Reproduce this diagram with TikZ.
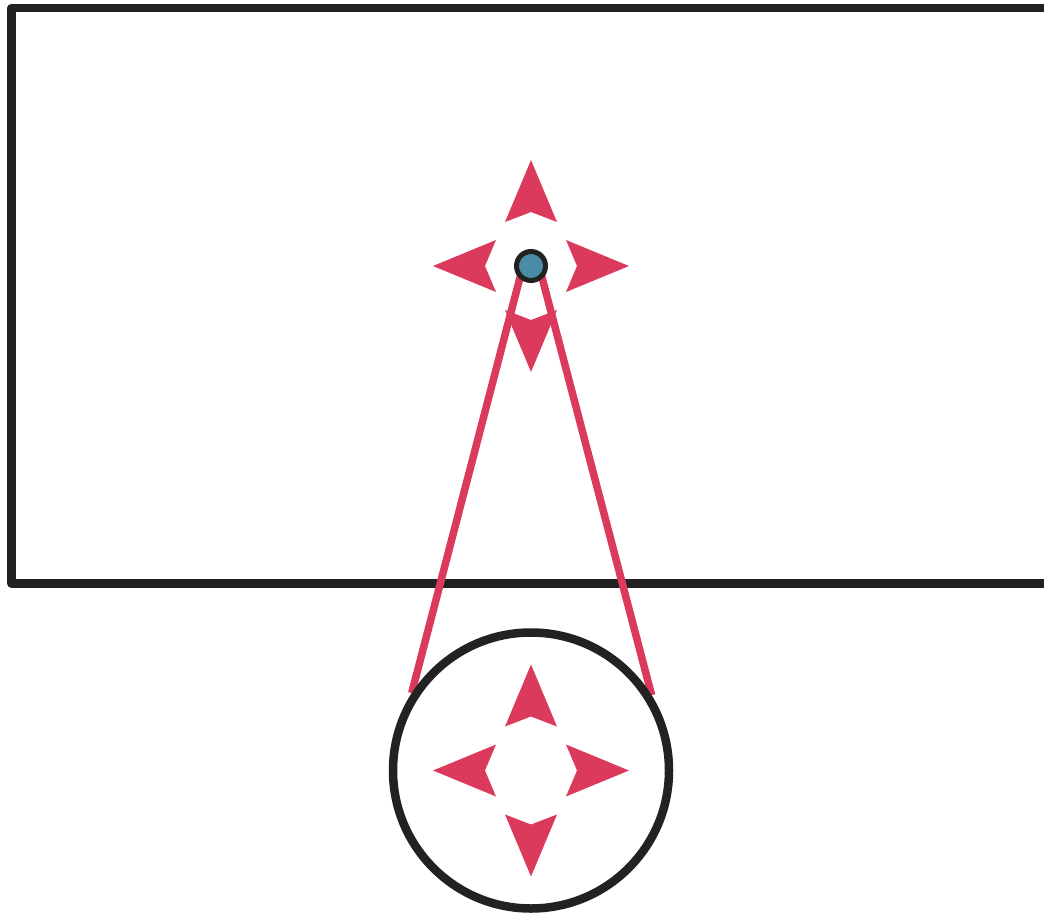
\documentclass[tikz,border=0pt]{standalone}
\definecolor{arrowred}{HTML}{DC3A5C}
\definecolor{inkblack}{HTML}{222222}
\definecolor{dotblue}{HTML}{4A8CA6}
\tikzset{
  frameline/.style={draw=inkblack, line width=8.5pt, line join=round},
  rayline/.style={draw=arrowred, line width=7.5pt},
  dotnode/.style={circle, draw=inkblack, fill=dotblue, line width=5pt, minimum size=29pt, inner sep=0pt},
  lensnode/.style={circle, draw=inkblack, line width=8.5pt, minimum size=276pt, inner sep=0pt},
  fourarrows/.pic={
    \fill[arrowred] (0,-106) -- (26,-44) -- (0,-54) -- (-26,-44) -- cycle;
    \fill[arrowred] (0,106) -- (26,44) -- (0,54) -- (-26,44) -- cycle;
    \fill[arrowred] (-98,0) -- (-35,-26) -- (-46,0) -- (-35,26) -- cycle;
    \fill[arrowred] (98,0) -- (35,-26) -- (46,0) -- (35,26) -- cycle;
  }
}
\begin{document}
\begin{tikzpicture}[x=1pt,y=-1pt]
\useasboundingbox (0,0) rectangle (1044,915);
% frame (open on the right)
\path[frameline] (1050,8) -- (11.5,8) -- (11.5,583.5) -- (1050,583.5);
% positions
\coordinate (ctop) at (531,266);
\coordinate (cbot) at (531,770.5);
\coordinate (la) at (523,266);
\coordinate (ra) at (539,266);
\node[lensnode, draw=none] (lens) at (cbot) {};
% rays
\draw[rayline] (la) -- (lens.147);
\draw[rayline] (ra) -- (lens.32);
% arrows
\pic at (ctop) {fourarrows};
\pic at (cbot) {fourarrows};
% dot and lens
\node[dotnode] (dot) at (ctop) {};
\node[lensnode] (lensring) at (cbot) {};
\end{tikzpicture}
\end{document}
